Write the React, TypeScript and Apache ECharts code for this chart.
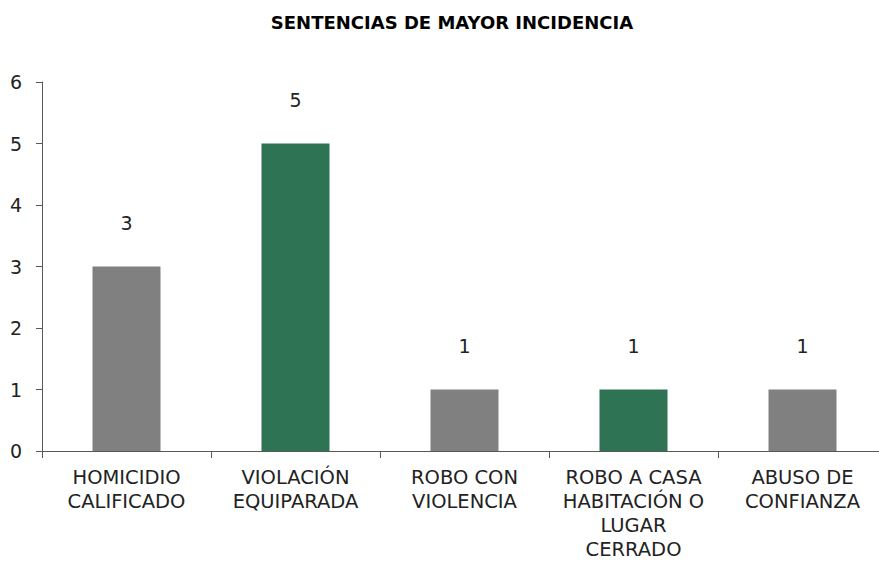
import React, { useEffect, useRef } from "react";
import * as echarts from "echarts";

const categories = [
  "HOMICIDIO\nCALIFICADO",
  "VIOLACIÓN\nEQUIPARADA",
  "ROBO CON\nVIOLENCIA",
  "ROBO A CASA\nHABITACIÓN O\nLUGAR\nCERRADO",
  "ABUSO DE\nCONFIANZA",
];
const values = [3, 5, 1, 1, 1];
const barColors = ["#808080", "#2e7353", "#808080", "#2e7353", "#808080"];
const yTicks = [0, 1, 2, 3, 4, 5, 6];

export default function App() {
  const ref = useRef<HTMLDivElement>(null);
  useEffect(() => {
    if (!ref.current) return;
    const chart = echarts.init(ref.current, null, { renderer: "svg" });
    const font = "'DejaVu Sans', sans-serif";
    chart.setOption({
      animation: false,
      title: {
        text: "SENTENCIAS DE MAYOR INCIDENCIA",
        left: 447,
        textAlign: "center",
        top: 8,
        textStyle: { fontFamily: font, fontWeight: "bold", fontSize: 18, color: "#000" },
      },
      grid: { left: 42, top: 82, width: 845, height: 369, containLabel: false },
      xAxis: {
        type: "category",
        data: categories,
        axisLine: { lineStyle: { color: "#595959", width: 1 } },
        axisTick: { show: true, alignWithLabel: false, length: 7, lineStyle: { color: "#595959" } },
        axisLabel: { fontFamily: font, fontSize: 19.5, color: "#222", lineHeight: 24, margin: 14, interval: 0 },
      },
      yAxis: {
        type: "value",
        min: yTicks[0],
        max: yTicks[yTicks.length - 1],
        interval: 1,
        splitLine: { show: false },
        axisLine: { show: true, lineStyle: { color: "#595959", width: 1 } },
        axisTick: { show: true, length: 6, lineStyle: { color: "#595959" } },
        axisLabel: { fontFamily: font, fontSize: 19, color: "#222", margin: 20 },
      },
      series: [
        {
          type: "bar",
          data: values.map((v, i) => ({ value: v, itemStyle: { color: barColors[i] } })),
          barWidth: 68,
          label: { show: true, position: "top", distance: 34, fontFamily: font, fontSize: 19, color: "#222" },
        },
      ],
    });
    return () => chart.dispose();
  }, []);
  return (
    <div style={{ position: "absolute", left: 0, top: 0, width: 879, height: 567, overflow: "hidden" }}>
      <div ref={ref} style={{ width: 900, height: 567 }} />
    </div>
  );
}
